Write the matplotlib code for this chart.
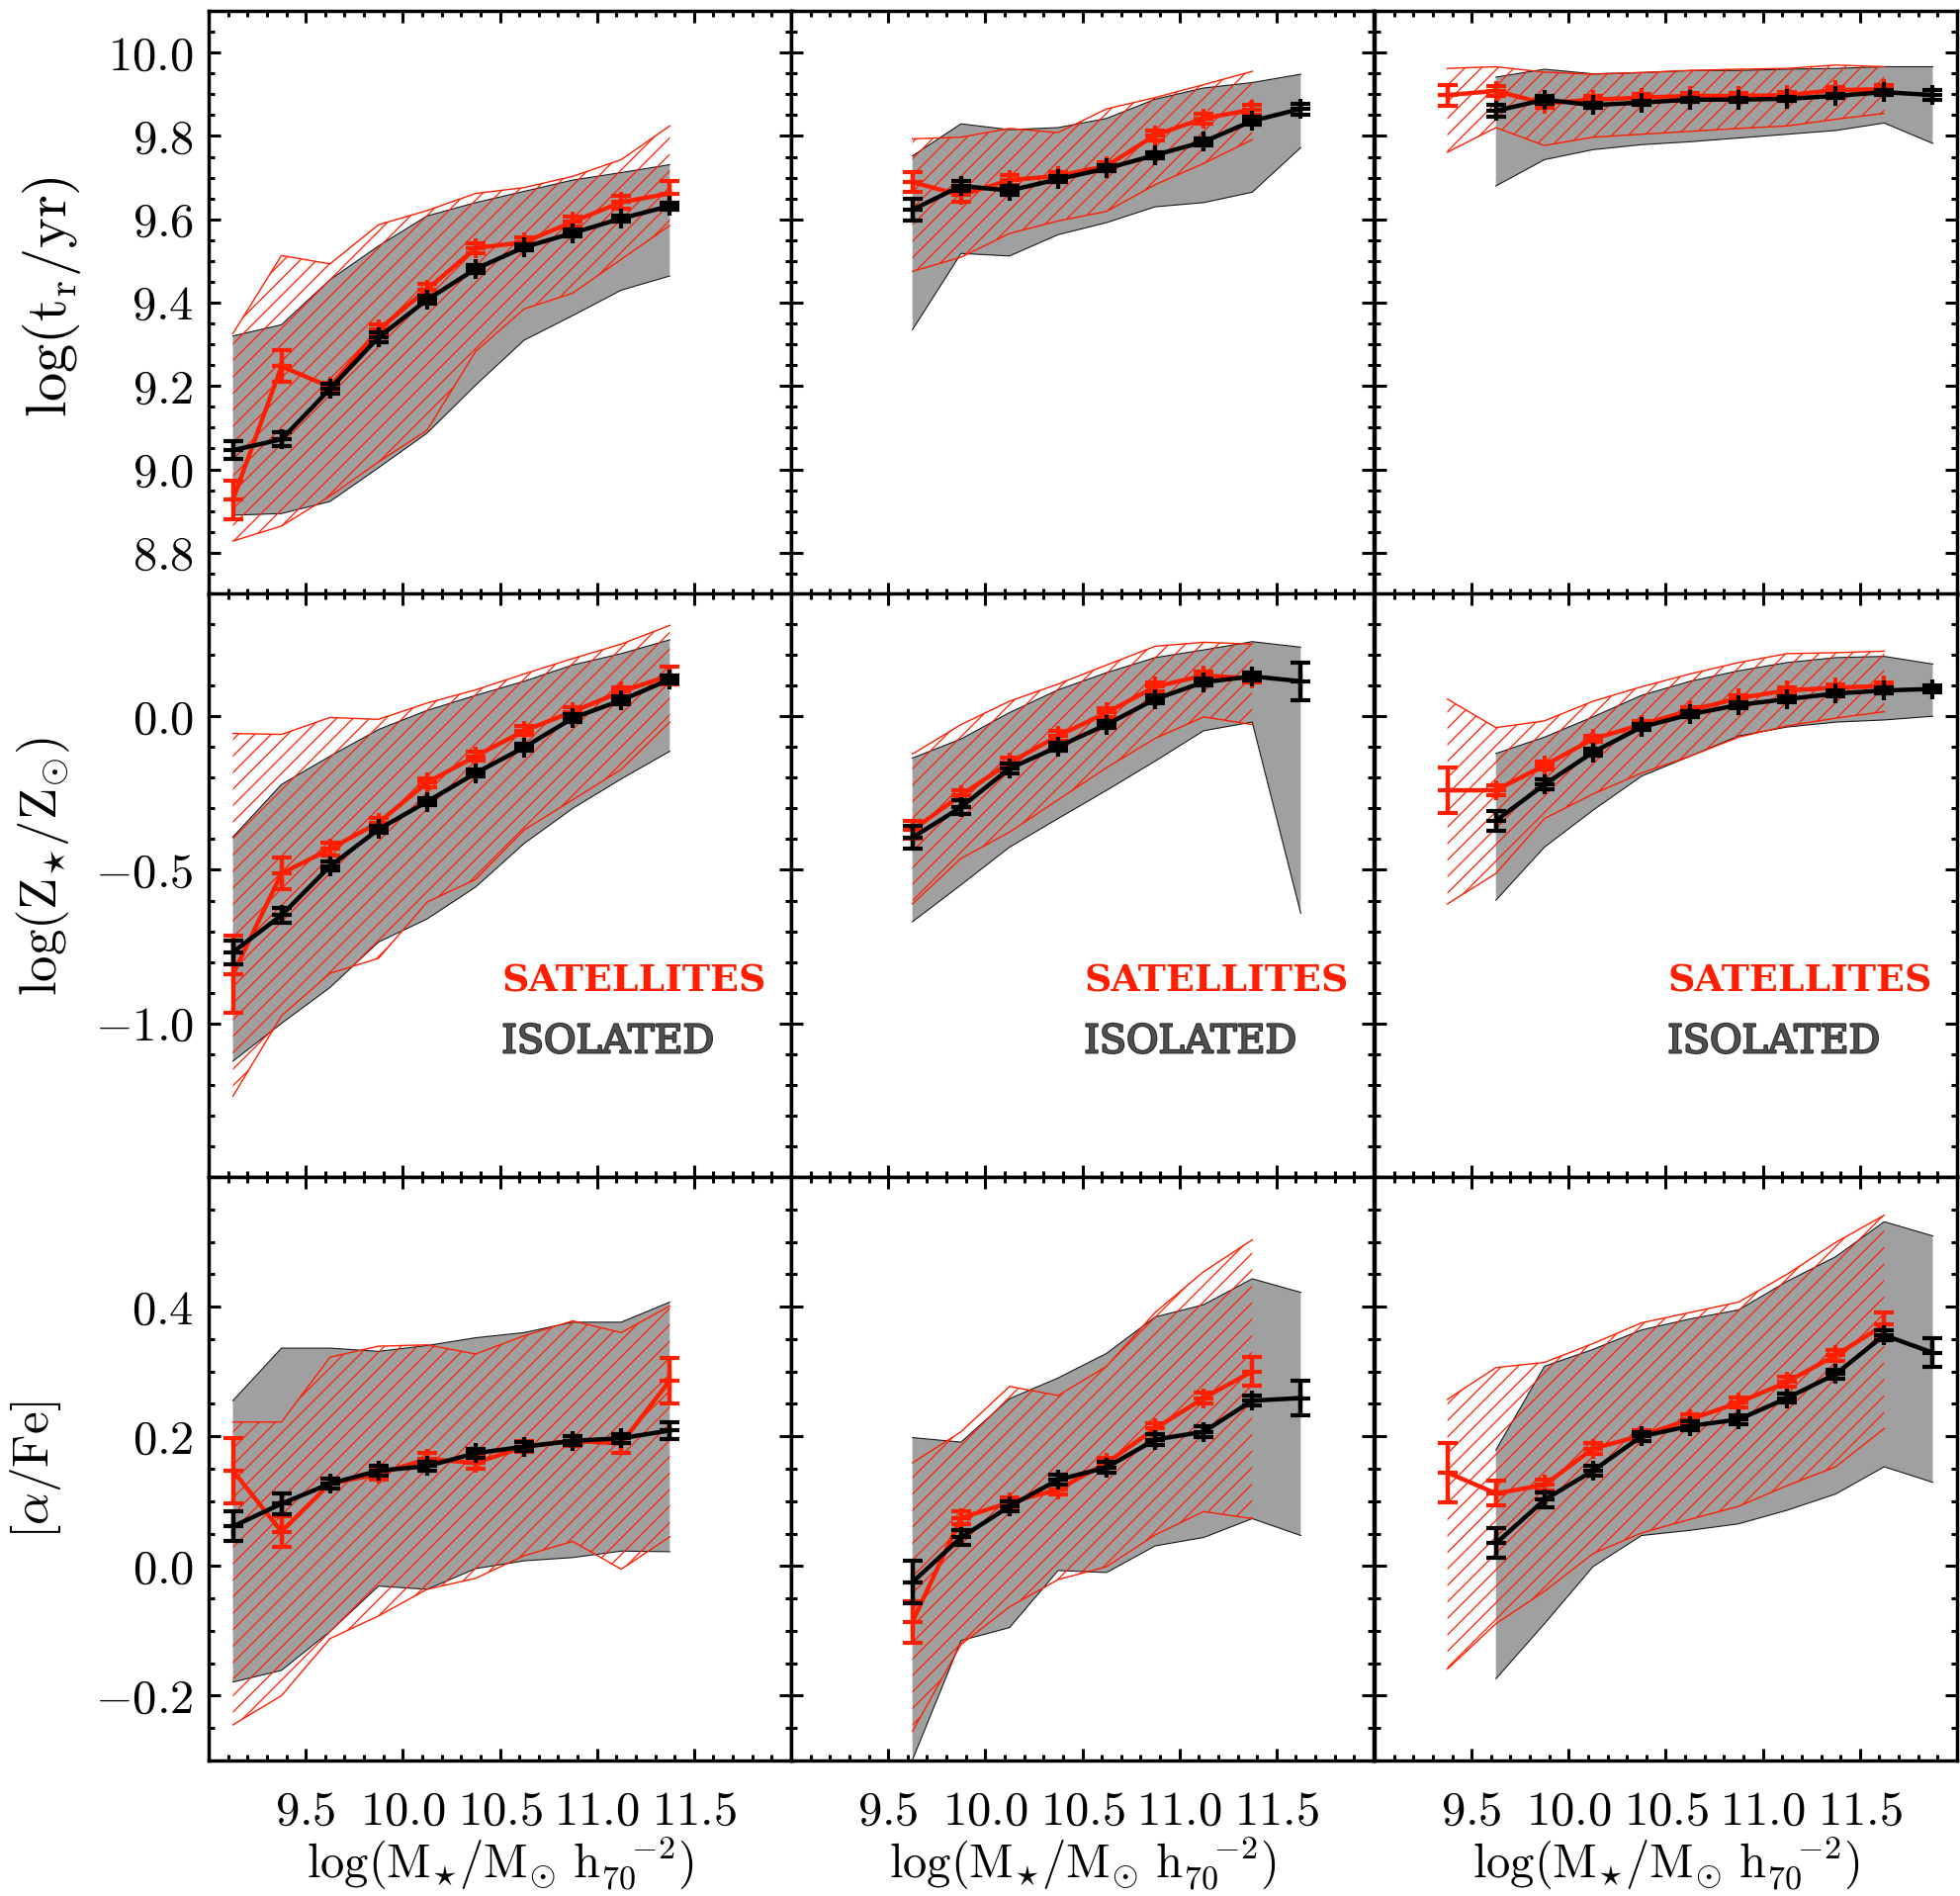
import matplotlib
matplotlib.use("Agg")
import matplotlib.pyplot as plt
import matplotlib.patheffects as pe
from matplotlib.ticker import FixedLocator, MultipleLocator, FixedFormatter

RED = "#ff1e00"
GRAY = "#a0a0a0"
DARK = "#505050"

# stellar-mass bin centres (log M*/Msun h70^-2)
MASS = [9.125, 9.375, 9.625, 9.875, 10.125, 10.375, 10.625, 10.875,
        11.125, 11.375, 11.625, 11.875]

# which bins are populated in each column (start, stop) for isolated / satellites
ISO_RANGE = [(0, 10), (2, 11), (2, 12)]
SAT_RANGE = [(0, 10), (2, 10), (1, 11)]

# ---------------- row 1: log(t_r / yr) ----------------
AGE_ISO_MED = [
    [9.046, 9.072, 9.193, 9.317, 9.407, 9.481, 9.533, 9.567, 9.602, 9.632],
    [9.623, 9.680, 9.669, 9.696, 9.722, 9.754, 9.786, 9.836, 9.865],
    [9.860, 9.887, 9.874, 9.880, 9.887, 9.887, 9.889, 9.896, 9.905, 9.898],
]
AGE_ISO_ERR = [
    [0.022, 0.016, 0.012, 0.012, 0.010, 0.010, 0.008, 0.008, 0.008, 0.008],
    [0.027, 0.012, 0.010, 0.007, 0.007, 0.007, 0.008, 0.010, 0.013],
    [0.015, 0.010, 0.006, 0.005, 0.005, 0.005, 0.005, 0.005, 0.006, 0.012],
]
AGE_ISO_LO = [
    [8.890, 8.894, 8.923, 9.004, 9.087, 9.202, 9.310, 9.369, 9.430, 9.464],
    [9.335, 9.518, 9.512, 9.563, 9.592, 9.630, 9.640, 9.665, 9.772],
    [9.680, 9.743, 9.767, 9.779, 9.786, 9.795, 9.804, 9.813, 9.831, 9.782],
]
AGE_ISO_HI = [
    [9.320, 9.347, 9.455, 9.536, 9.608, 9.640, 9.667, 9.694, 9.712, 9.731],
    [9.752, 9.829, 9.815, 9.820, 9.842, 9.888, 9.915, 9.928, 9.948],
    [9.941, 9.960, 9.949, 9.952, 9.957, 9.957, 9.960, 9.962, 9.966, 9.966],
]
AGE_SAT_MED = [
    [8.927, 9.247, 9.198, 9.335, 9.432, 9.531, 9.545, 9.594, 9.641, 9.662],
    [9.689, 9.658, 9.694, 9.704, 9.728, 9.802, 9.842, 9.863],
    [9.898, 9.908, 9.878, 9.887, 9.892, 9.896, 9.896, 9.898, 9.910, 9.912],
]
AGE_SAT_ERR = [
    [0.047, 0.038, 0.010, 0.012, 0.012, 0.012, 0.012, 0.012, 0.015, 0.030],
    [0.024, 0.016, 0.012, 0.010, 0.010, 0.012, 0.012, 0.012],
    [0.025, 0.012, 0.010, 0.008, 0.008, 0.008, 0.008, 0.008, 0.008, 0.010],
]
AGE_SAT_LO = [
    [8.828, 8.864, 8.936, 9.018, 9.094, 9.283, 9.385, 9.423, 9.504, 9.585],
    [9.475, 9.509, 9.566, 9.596, 9.619, 9.683, 9.734, 9.791],
    [9.761, 9.820, 9.777, 9.797, 9.804, 9.811, 9.818, 9.824, 9.840, 9.854],
]
AGE_SAT_HI = [
    [9.326, 9.513, 9.493, 9.587, 9.621, 9.662, 9.676, 9.703, 9.743, 9.824],
    [9.793, 9.797, 9.818, 9.808, 9.865, 9.892, 9.923, 9.955],
    [9.962, 9.966, 9.953, 9.948, 9.952, 9.957, 9.960, 9.962, 9.970, 9.966],
]

# ---------------- row 2: log(Z* / Zsun) ----------------
Z_ISO_MED = [
    [-0.768, -0.648, -0.488, -0.368, -0.278, -0.185, -0.101, -0.006, 0.052, 0.120],
    [-0.395, -0.296, -0.170, -0.099, -0.027, 0.056, 0.111, 0.130, 0.114],
    [-0.340, -0.222, -0.117, -0.035, 0.006, 0.037, 0.056, 0.074, 0.084, 0.089],
]
Z_ISO_ERR = [
    [0.039, 0.025, 0.015, 0.012, 0.012, 0.012, 0.012, 0.012, 0.012, 0.012],
    [0.037, 0.022, 0.015, 0.012, 0.012, 0.012, 0.012, 0.012, 0.062],
    [0.033, 0.015, 0.012, 0.010, 0.010, 0.010, 0.010, 0.010, 0.010, 0.010],
]
Z_ISO_LO = [
    [-1.123, -1.000, -0.883, -0.735, -0.660, -0.556, -0.414, -0.300, -0.204, -0.114],
    [-0.669, -0.549, -0.426, -0.333, -0.241, -0.146, -0.047, -0.019, -0.642],
    [-0.599, -0.426, -0.306, -0.195, -0.130, -0.064, -0.035, -0.019, -0.012, 0.000],
]
Z_ISO_HI = [
    [-0.393, -0.222, -0.130, -0.043, 0.019, 0.068, 0.114, 0.167, 0.204, 0.249],
    [-0.136, -0.074, 0.012, 0.086, 0.142, 0.191, 0.216, 0.243, 0.225],
    [-0.121, -0.068, -0.002, 0.068, 0.114, 0.148, 0.175, 0.191, 0.195, 0.170],
]
Z_SAT_MED = [
    [-0.840, -0.512, -0.432, -0.346, -0.216, -0.130, -0.047, 0.015, 0.080, 0.133],
    [-0.370, -0.257, -0.151, -0.064, 0.012, 0.096, 0.133, 0.123],
    [-0.241, -0.241, -0.160, -0.074, -0.027, 0.019, 0.059, 0.084, 0.093, 0.099],
]
Z_SAT_ERR = [
    [0.126, 0.052, 0.020, 0.015, 0.015, 0.015, 0.015, 0.015, 0.015, 0.029],
    [0.030, 0.015, 0.015, 0.015, 0.015, 0.015, 0.012, 0.012],
    [0.074, 0.015, 0.012, 0.010, 0.010, 0.010, 0.010, 0.010, 0.010, 0.010],
]
Z_SAT_LO = [
    [-1.237, -0.975, -0.837, -0.788, -0.605, -0.531, -0.370, -0.272, -0.173, -0.019],
    [-0.611, -0.463, -0.377, -0.272, -0.167, -0.072, -0.002, -0.027],
    [-0.611, -0.512, -0.333, -0.253, -0.185, -0.130, -0.068, -0.031, -0.006, 0.015],
]
Z_SAT_HI = [
    [-0.056, -0.059, -0.004, -0.010, 0.043, 0.086, 0.138, 0.188, 0.235, 0.296],
    [-0.123, -0.027, 0.049, 0.105, 0.167, 0.228, 0.241, 0.235],
    [0.056, -0.037, -0.015, 0.049, 0.096, 0.138, 0.175, 0.204, 0.207, 0.212],
]

# ---------------- row 3: [alpha/Fe] ----------------
A_ISO_MED = [
    [0.061, 0.096, 0.127, 0.147, 0.154, 0.174, 0.184, 0.193, 0.197, 0.209],
    [-0.025, 0.044, 0.092, 0.133, 0.152, 0.195, 0.207, 0.255, 0.259],
    [0.035, 0.102, 0.147, 0.200, 0.216, 0.226, 0.259, 0.296, 0.356, 0.329],
]
A_ISO_ERR = [
    [0.023, 0.016, 0.008, 0.007, 0.007, 0.007, 0.007, 0.007, 0.007, 0.013],
    [0.033, 0.012, 0.008, 0.008, 0.008, 0.008, 0.008, 0.008, 0.027],
    [0.023, 0.012, 0.008, 0.007, 0.007, 0.007, 0.007, 0.007, 0.007, 0.022],
]
A_ISO_LO = [
    [-0.179, -0.161, -0.101, -0.031, -0.036, -0.004, 0.008, 0.013, 0.023, 0.022],
    [-0.299, -0.115, -0.095, -0.007, -0.010, 0.031, 0.044, 0.073, 0.047],
    [-0.174, -0.089, -0.001, 0.047, 0.055, 0.065, 0.086, 0.111, 0.153, 0.129],
]
A_ISO_HI = [
    [0.255, 0.336, 0.336, 0.331, 0.340, 0.352, 0.360, 0.376, 0.376, 0.407],
    [0.198, 0.191, 0.258, 0.290, 0.328, 0.384, 0.403, 0.443, 0.422],
    [0.179, 0.308, 0.334, 0.364, 0.381, 0.395, 0.439, 0.477, 0.531, 0.509],
]
A_SAT_MED = [
    [0.147, 0.053, 0.127, 0.142, 0.165, 0.159, 0.184, 0.193, 0.189, 0.286],
    [-0.086, 0.074, 0.098, 0.118, 0.159, 0.212, 0.259, 0.300],
    [0.144, 0.112, 0.125, 0.181, 0.201, 0.226, 0.252, 0.284, 0.325, 0.372],
]
A_SAT_ERR = [
    [0.050, 0.024, 0.008, 0.009, 0.009, 0.009, 0.008, 0.008, 0.015, 0.035],
    [0.032, 0.010, 0.008, 0.008, 0.008, 0.008, 0.008, 0.022],
    [0.046, 0.019, 0.008, 0.008, 0.008, 0.008, 0.008, 0.008, 0.008, 0.019],
]
A_SAT_LO = [
    [-0.245, -0.200, -0.112, -0.077, -0.036, -0.019, 0.016, 0.038, -0.005, 0.045],
    [-0.255, -0.121, -0.063, -0.021, -0.001, 0.048, 0.084, 0.073],
    [-0.159, -0.089, -0.039, 0.019, 0.051, 0.072, 0.092, 0.124, 0.153, 0.212],
]
A_SAT_HI = [
    [0.222, 0.222, 0.322, 0.339, 0.341, 0.327, 0.355, 0.378, 0.360, 0.401],
    [0.159, 0.207, 0.277, 0.263, 0.308, 0.391, 0.454, 0.503],
    [0.257, 0.306, 0.314, 0.343, 0.375, 0.391, 0.407, 0.450, 0.499, 0.541],
]

# axis ranges and ticks
X_RANGE = (9.0, 12.0)
X_TICKS = [9.5, 10.0, 10.5, 11.0, 11.5]
X_TICKLABELS = ["9.5", "10.0", "10.5", "11.0", "11.5"]

Y_RANGES = [(8.7, 10.1), (-1.5, 0.4), (-0.3, 0.6)]
Y_TICKS = [
    [8.8, 9.0, 9.2, 9.4, 9.6, 9.8, 10.0],
    [-1.0, -0.5, 0.0],
    [-0.2, 0.0, 0.2, 0.4],
]
Y_TICKLABELS = [
    ["8.8", "9.0", "9.2", "9.4", "9.6", "9.8", "10.0"],
    ["-1.0", "-0.5", "0.0"],
    ["-0.2", "0.0", "0.2", "0.4"],
]
Y_MINOR = [0.05, 0.1, 0.05]
Y_LABELS = [r"$\mathrm{log(t_r/yr)}$",
            r"$\mathrm{log(Z_{\star}/Z_{\odot})}$",
            r"$[\alpha/\mathrm{Fe}]$"]
Y_LABEL_SIZES = [42, 38, 37]
X_LABEL = r"$\mathrm{log(M_{\star}/M_{\odot}\ h_{70}^{\quad{-2}})}$"

ROWS = [
    (AGE_ISO_MED, AGE_ISO_ERR, AGE_ISO_LO, AGE_ISO_HI,
     AGE_SAT_MED, AGE_SAT_ERR, AGE_SAT_LO, AGE_SAT_HI),
    (Z_ISO_MED, Z_ISO_ERR, Z_ISO_LO, Z_ISO_HI,
     Z_SAT_MED, Z_SAT_ERR, Z_SAT_LO, Z_SAT_HI),
    (A_ISO_MED, A_ISO_ERR, A_ISO_LO, A_ISO_HI,
     A_SAT_MED, A_SAT_ERR, A_SAT_LO, A_SAT_HI),
]

plt.rcParams.update({
    "font.family": "cmr10",
    "mathtext.fontset": "cm",
    "axes.formatter.use_mathtext": True,
    "hatch.color": RED,
    "hatch.linewidth": 0.9,
    "axes.linewidth": 2.5,
})

W, H = 1983, 1917
fig = plt.figure(figsize=(W / 100, H / 100), dpi=100)

COL_LEFT = [211, 800, 1390]
ROW_TOP = [11, 600, 1190]
PW, PH = 589, 590


def mathify(s):
    return "$" + s + "$"


def draw_series(ax, x, med, err, color, z):
    ax.errorbar(x, med, yerr=err, fmt="-", color=color, lw=3.2,
                marker="+", ms=14, mew=3.0,
                elinewidth=3.2, capsize=7, capthick=3.2, zorder=z)


for r in range(3):
    iso_med, iso_err, iso_lo, iso_hi, sat_med, sat_err, sat_lo, sat_hi = ROWS[r]
    for c in range(3):
        ax = fig.add_axes([COL_LEFT[c] / W, 1 - (ROW_TOP[r] + PH) / H, PW / W, PH / H])
        xi = MASS[ISO_RANGE[c][0]:ISO_RANGE[c][1]]
        xs = MASS[SAT_RANGE[c][0]:SAT_RANGE[c][1]]

        # isolated: solid grey envelope with thin dark edges
        ax.fill_between(xi, iso_lo[c], iso_hi[c], facecolor=GRAY,
                        edgecolor="none", lw=0, zorder=1)
        ax.plot(xi, iso_lo[c], color="#1a1a1a", lw=0.8, zorder=1.5)
        ax.plot(xi, iso_hi[c], color="#1a1a1a", lw=0.8, zorder=1.5)

        # satellites: red hatched envelope
        ax.fill_between(xs, sat_lo[c], sat_hi[c], facecolor="none",
                        edgecolor=RED, hatch="//", lw=0, zorder=2)
        ax.plot(xs, sat_lo[c], color=RED, lw=1.0, zorder=2.5)
        ax.plot(xs, sat_hi[c], color=RED, lw=1.0, zorder=2.5)

        draw_series(ax, xs, sat_med[c], sat_err[c], RED, 3)
        draw_series(ax, xi, iso_med[c], iso_err[c], "black", 4)

        ax.set_xlim(*X_RANGE)
        ax.set_ylim(*Y_RANGES[r])
        ax.xaxis.set_major_locator(FixedLocator(X_TICKS))
        ax.xaxis.set_minor_locator(MultipleLocator(0.1))
        ax.yaxis.set_major_locator(FixedLocator(Y_TICKS[r]))
        ax.yaxis.set_minor_locator(MultipleLocator(Y_MINOR[r]))
        ax.xaxis.set_major_formatter(FixedFormatter([mathify(s) for s in X_TICKLABELS]))
        ax.yaxis.set_major_formatter(FixedFormatter([mathify(s) for s in Y_TICKLABELS[r]]))

        ax.tick_params(which="both", direction="in", top=True, right=True,
                       width=2.2, color="black", labelsize=35)
        ax.tick_params(which="major", length=8.5)
        ax.tick_params(which="minor", length=4.2)
        ax.tick_params(axis="y", pad=11, labelleft=(c == 0))
        ax.tick_params(axis="x", pad=22, labelbottom=(r == 2))

        if r == 1:
            ax.text(0.503, 0.318, "SATELLITES", transform=ax.transAxes,
                    color=RED, family="DejaVu Serif", weight="bold",
                    fontsize=27.3, ha="left", va="baseline", zorder=6)
            ax.text(0.503, 0.213, "ISOLATED", transform=ax.transAxes,
                    color=DARK, family="DejaVu Serif", weight="normal",
                    fontsize=28.5, ha="left", va="baseline", zorder=6,
                    path_effects=[pe.withStroke(linewidth=1.6, foreground="#2a2a2a")])

        if r == 2:
            fig.text((COL_LEFT[c] + PW / 2) / W, 1 - 1884 / H, X_LABEL,
                     fontsize=35, ha="center", va="center")

# y-axis titles
for r, (xc, yc) in enumerate([(52, 300), (44, 876), (36, 1486)]):
    fig.text(xc / W, 1 - yc / H, Y_LABELS[r], fontsize=Y_LABEL_SIZES[r],
             rotation=90, ha="center", va="center")

fig.savefig("out.png", dpi=100)
